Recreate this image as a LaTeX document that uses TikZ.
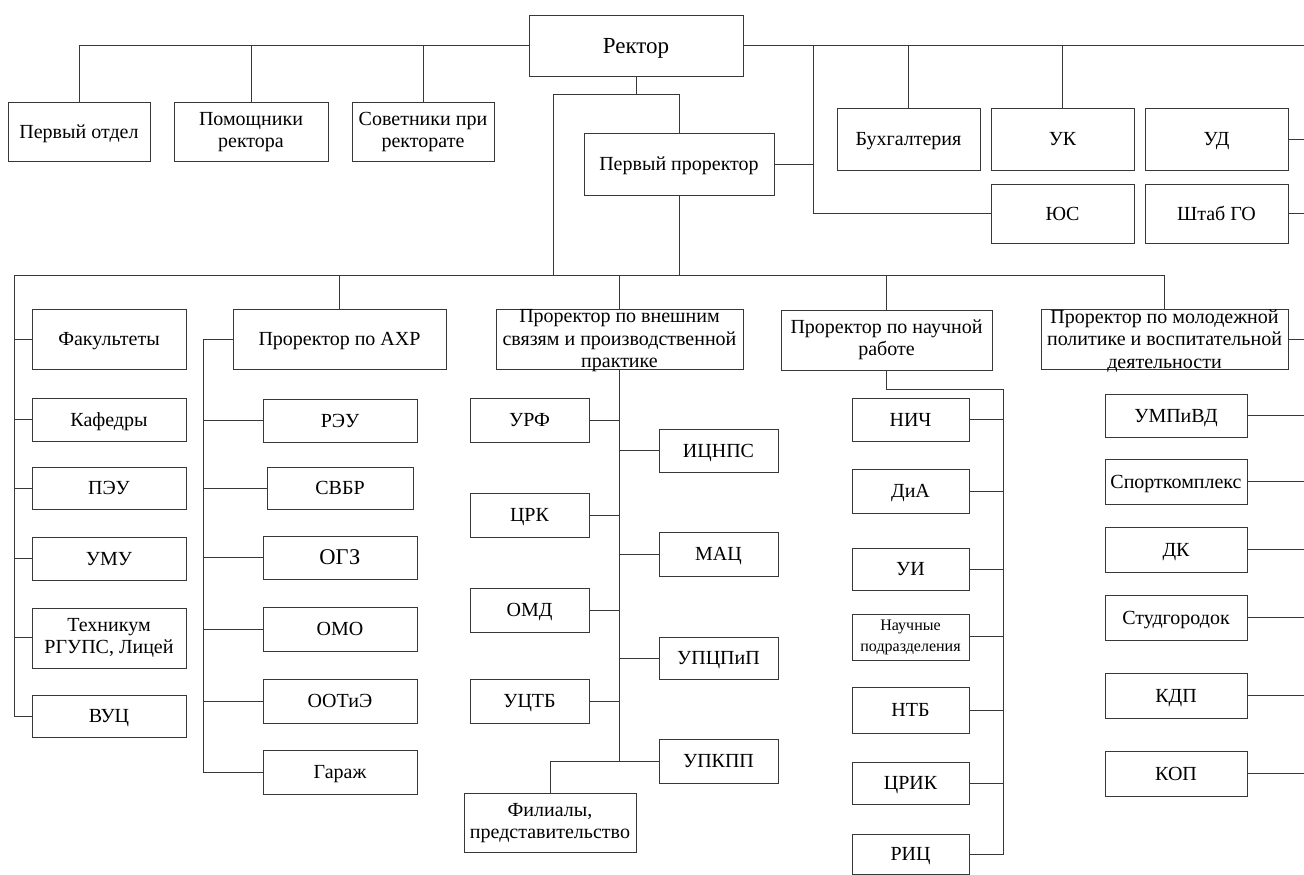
\documentclass[tikz,border=0pt]{standalone}
\usepackage{fontspec}
\setmainfont{Liberation Serif}
\newfontfamily\tnr{Liberation Serif}
\begin{document}
\begin{tikzpicture}[x=1pt,y=-1pt,
  box/.style={draw=black!78, line width=0.9pt, fill=white, inner sep=0pt, align=center,
    font=\tnr\fontsize{20}{22.5}\selectfont, text=black, text height=17pt, text depth=3.8pt},
  multi/.style={text height=, text depth=},
  lbl/.style={inner sep=0pt, align=center, font=\tnr\fontsize{20}{22.5}\selectfont, text=black},
  link/.style={draw=black!78, line width=0.9pt}]
\useasboundingbox (0,0) rectangle (1304,875);

% ---------- top level ----------
\node[box, minimum width=214, minimum height=61, font=\tnr\fontsize{23}{26}\selectfont, text height=19.2pt, text depth=4pt] (rector) at (636,45.5) {Ректор};
\node[box, minimum width=142, minimum height=59] (pervotd) at (79,131.5) {Первый отдел};
\node[box, multi, minimum width=154, minimum height=59] (pomosh) at (251,132) {Помощники\\ректора};
\node[box, multi, minimum width=142, minimum height=59] (sovet) at (423,132) {Советники при\\ректорате};
\node[box, minimum width=143, minimum height=62] (buh) at (908.5,139) {Бухгалтерия};
\node[box, minimum width=143, minimum height=62] (uk) at (1062.5,139) {УК};
\node[box, minimum width=143, minimum height=62] (ud) at (1216.5,139) {УД};
\node[box, minimum width=143, minimum height=59] (yus) at (1062.5,213.5) {ЮС};
\node[box, minimum width=143, minimum height=59] (shtab) at (1216.5,213.5) {Штаб ГО};
\node[box, minimum width=190, minimum height=62] (pervpro) at (679,164) {Первый проректор};

\coordinate (edgeTop) at (1304,45.5);
\coordinate (j1) at (813,213.5);
\coordinate (r1) at (636,94);
\coordinate (b0) at (553,275);
\coordinate (busL) at (14,275);
\coordinate (edgeUD) at (1304,139);
\coordinate (edgeGO) at (1304,213.5);

\draw[link] (rector.west) -| (pervotd.north);
\draw[link] (pomosh.north) |- (rector.west);
\draw[link] (sovet.north) |- (rector.west);
\draw[link] (rector.east) -- (edgeTop);
\draw[link] (buh.north) |- (rector.east);
\draw[link] (uk.north) |- (rector.east);
\draw[link] (rector.east) -| (j1) -- (yus.west);
\draw[link] (pervpro.east) -- (pervpro.east -| j1);
\draw[link] (ud.east) -- (edgeUD);
\draw[link] (shtab.east) -- (edgeGO);
\draw[link] (rector.south) -- (r1);
\draw[link] (pervpro.north) |- (r1);
\draw[link] (r1) -| (b0);
\draw[link] (pervpro.south) -- (pervpro.south |- busL);

% ---------- second level ----------
\node[box, minimum width=154, minimum height=60] (fak) at (109,339) {Факультеты};
\node[box, minimum width=213, minimum height=60] (ahr) at (339.5,339) {Проректор по АХР};
\node[box, minimum width=247, minimum height=60] (vs) at (619.5,339) {};
\node[lbl] (vstxt) at (619.5,341) {Проректор по внешним\\связям и производственной\\практике};
\node[box, multi, minimum width=211, minimum height=60] (nauch) at (886.5,340) {Проректор по научной\\работе};
\node[box, minimum width=247, minimum height=60] (molod) at (1164.5,339) {};
\node[lbl] (molodtxt) at (1164.5,341) {Проректор по молодежной\\политике и воспитательной\\деятельности};

\coordinate (busR) at (molod.north |- busL);
\draw[link] (busL) -- (busR) -- (molod.north);
\draw[link] (ahr.north) -- (ahr.north |- busL);
\draw[link] (vs.north) -- (vs.north |- busL);
\draw[link] (nauch.north) -- (nauch.north |- busL);
\coordinate (edgeMol) at (1304,339);
\draw[link] (molod.east) -- (edgeMol);

% ---------- faculties column ----------
\node[box, minimum width=154, minimum height=43] (kaf) at (109,419.5) {Кафедры};
\node[box, minimum width=154, minimum height=42] (peu) at (109,488) {ПЭУ};
\node[box, minimum width=154, minimum height=43] (umu) at (109,558.5) {УМУ};
\node[box, multi, minimum width=154, minimum height=60] (tech) at (109,638) {Техникум\\РГУПС, Лицей};
\node[box, minimum width=154, minimum height=42] (vuc) at (109,716) {ВУЦ};
\draw[link] (busL) |- (vuc.west);
\foreach \n in {fak,kaf,peu,umu} \draw[link] (\n.west) -- (\n.west -| busL);
\draw[link] (tech.west |- 0,637) -- (busL |- 0,637);

% ---------- AHR column ----------
\node[box, minimum width=154, minimum height=43] (reu) at (340,420.5) {РЭУ};
\node[box, minimum width=146, minimum height=42] (svbr) at (340,488) {СВБР};
\node[box, minimum width=154, minimum height=43, font=\tnr\fontsize{22.5}{26}\selectfont, text height=18.9pt, text depth=4pt] (ogz) at (340,557.5) {ОГЗ};
\node[box, minimum width=154, minimum height=44] (omo) at (340,629) {ОМО};
\node[box, minimum width=154, minimum height=44] (ootie) at (340,701) {ООТиЭ};
\node[box, minimum width=154, minimum height=44] (garazh) at (340,772) {Гараж};
\coordinate (a0) at (203,339);
\draw[link] (ahr.west) -- (a0) |- (garazh.west);
\foreach \n in {reu,svbr,ogz,omo,ootie} \draw[link] (\n.west) -- (\n.west -| a0);

% ---------- external relations column ----------
\node[box, minimum width=119, minimum height=44] (urf) at (529.5,420) {УРФ};
\node[box, minimum width=119, minimum height=43] (icnps) at (718.5,450.5) {ИЦНПС};
\node[box, minimum width=119, minimum height=44] (crk) at (529.5,515) {ЦРК};
\node[box, minimum width=119, minimum height=44] (mac) at (718.5,554) {МАЦ};
\node[box, minimum width=119, minimum height=44] (omd) at (529.5,610) {ОМД};
\node[box, minimum width=119, minimum height=42] (upcpip) at (718.5,658) {УПЦПиП};
\node[box, minimum width=119, minimum height=44] (uctb) at (529.5,701) {УЦТБ};
\node[box, minimum width=119, minimum height=44] (upkpp) at (718.5,761) {УПКПП};
\node[box, multi, minimum width=172, minimum height=59] (filial) at (550,823) {Филиалы,\\представительство};
\coordinate (v0) at (619.5,761);
\draw[link] (vs.south) -- (v0);
\draw[link] (upkpp.west) -| (filial.north);
\foreach \n in {urf,crk,omd,uctb} \draw[link] (\n.east) -- (\n.east -| v0);
\foreach \n in {icnps,mac,upcpip} \draw[link] (\n.west) -- (\n.west -| v0);

% ---------- science column ----------
\node[box, minimum width=117, minimum height=43] (nich) at (910.5,419.5) {НИЧ};
\node[box, minimum width=117, minimum height=44] (dia) at (910.5,491) {ДиА};
\node[box, minimum width=117, minimum height=42] (ui) at (910.5,569) {УИ};
\node[box, multi, minimum width=117, minimum height=46, font=\tnr\fontsize{16}{21}\selectfont] (nauchpod) at (910.5,637) {Научные\\подразделения};
\node[box, minimum width=117, minimum height=46] (ntb) at (910.5,710) {НТБ};
\node[box, minimum width=117, minimum height=42] (crik) at (910.5,783) {ЦРИК};
\node[box, minimum width=117, minimum height=40] (ric) at (910.5,854) {РИЦ};
\coordinate (n1) at (1003,389);
\draw[link] (nauch.south) |- (n1) |- (ric.east);
\foreach \n in {nich,dia,ui,ntb,crik} \draw[link] (\n.east) -- (\n.east -| n1);
\draw[link] (nauchpod.east |- 0,636) -- (n1 |- 0,636);

% ---------- youth policy column ----------
\node[box, minimum width=142, minimum height=43] (umpivd) at (1176,415.5) {УМПиВД};
\node[box, minimum width=142, minimum height=45] (sport) at (1176,481.5) {Спорткомплекс};
\node[box, minimum width=142, minimum height=45] (dk) at (1176,549.5) {ДК};
\node[box, minimum width=142, minimum height=45] (studg) at (1176,617.5) {Студгородок};
\node[box, minimum width=142, minimum height=45] (kdp) at (1176,695.5) {КДП};
\node[box, minimum width=142, minimum height=45] (kop) at (1176,773.5) {КОП};
\coordinate (edgeR) at (1304,0);
\foreach \n in {umpivd,sport,dk,studg,kdp,kop} \draw[link] (\n.east) -- (\n.east -| edgeR);
\end{tikzpicture}
\end{document}
